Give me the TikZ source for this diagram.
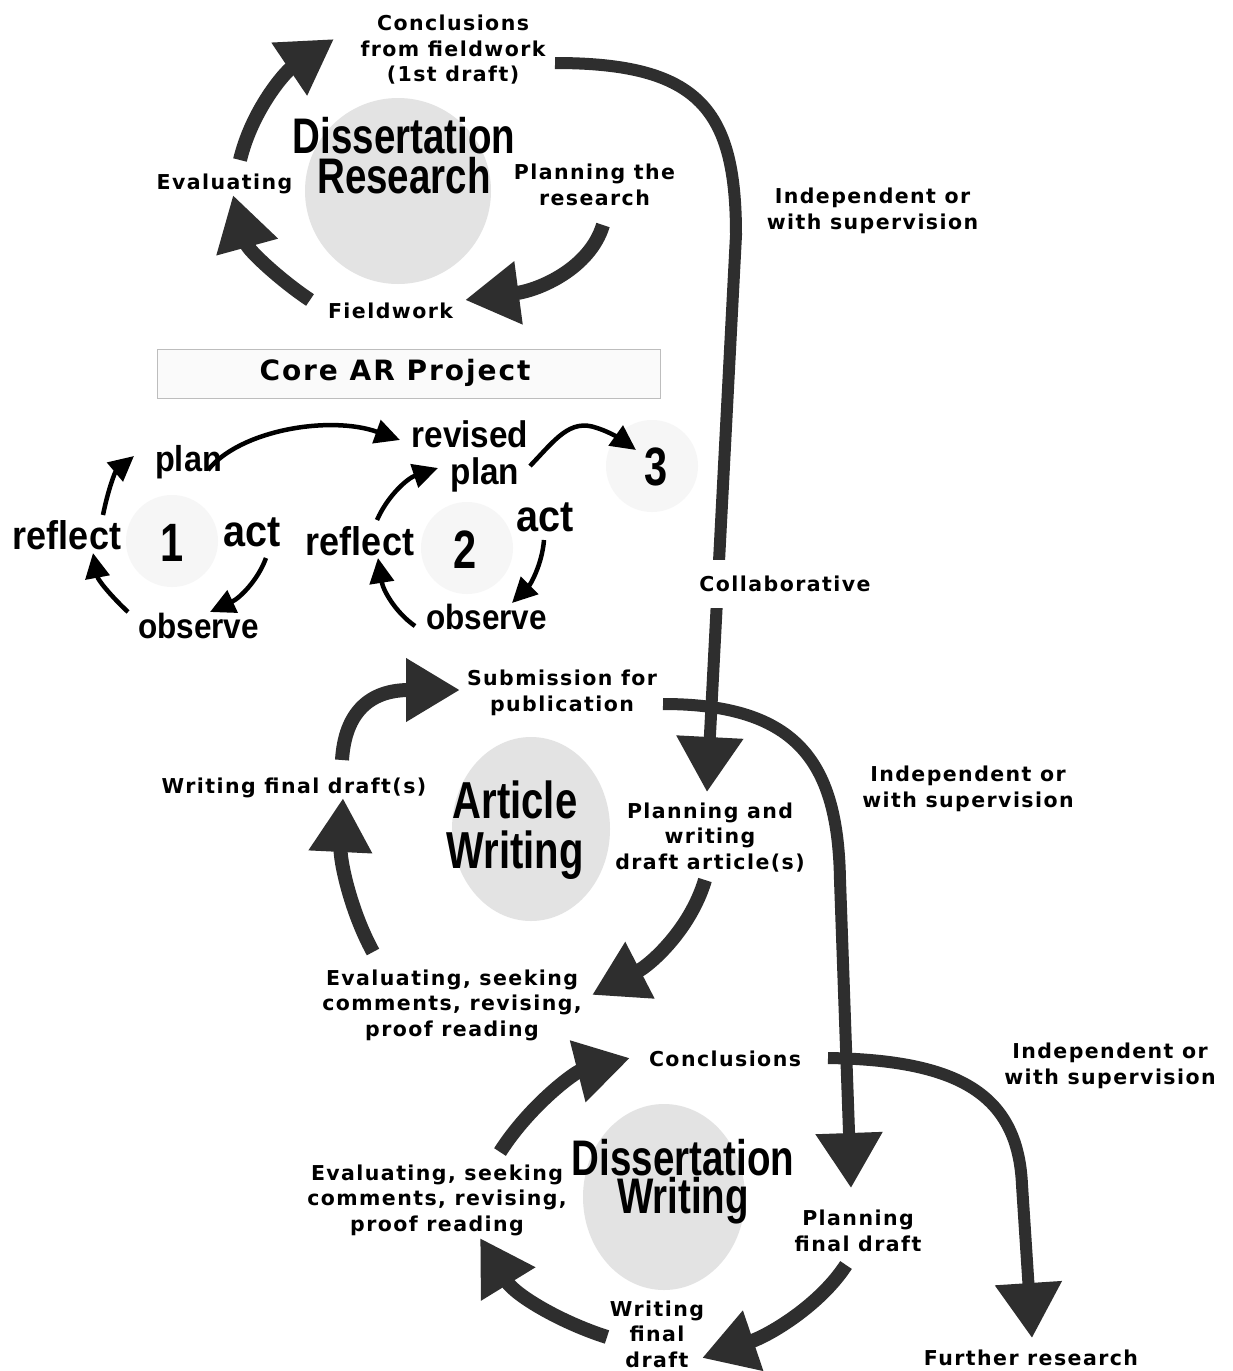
\documentclass[tikz,border=0pt]{standalone}
\usepackage{fontspec}
\setmainfont{DejaVu Sans}[LetterSpace=7]
\newfontfamily\narrowfont{Liberation Sans}[FakeStretch=0.77]
\newfontfamily\semifont{Liberation Sans}[FakeStretch=0.9]
\usetikzlibrary{arrows.meta,shapes.geometric}
\definecolor{arr}{HTML}{2E2E2E}
\definecolor{disc}{HTML}{E3E3E3}
\definecolor{faint}{HTML}{F6F6F6}
\definecolor{boxline}{HTML}{BDBDBD}
\definecolor{boxfill}{HTML}{FAFAFA}
\begin{document}
\begin{tikzpicture}[x=1pt,y=-1pt,
  lab/.style={font=\bfseries\fontsize{20.5}{25.5}\selectfont, align=center, inner sep=0pt},
  bigtitle/.style={font=\narrowfont\bfseries\fontsize{50}{40}\selectfont, inner sep=0pt, anchor=base},
  artitle/.style={font=\narrowfont\bfseries\fontsize{52}{50}\selectfont, inner sep=0pt, anchor=base},
  arlab/.style={font=\semifont\bfseries\fontsize{#1}{#1}\selectfont, align=center, inner sep=0pt},
  digit/.style={font=\narrowfont\bfseries\fontsize{54}{54}\selectfont, inner sep=0pt},
  cyc/.style={draw=arr, line width=14pt, -{Triangle[length=54pt,width=60pt]}},
  bigarr/.style={draw=arr, line width=12pt, -{Triangle[length=55pt,width=64pt]}},
  thin/.style={draw=black, line width=4.5pt, -{Triangle[length=25pt,width=24pt]}},
  disk/.style={circle, fill=disc, inner sep=0pt},
  oval/.style={ellipse, fill=disc, inner sep=0pt},
  fdisk/.style={circle, fill=faint, inner sep=0pt, minimum size=92pt}
]
\fill[white] (0,0) rectangle (1232,1371);
\useasboundingbox (0,0) rectangle (1232,1371);

% ---------------- Dissertation Research ----------------
\node[disk, minimum size=186pt] (drdisc) at (398,191) {};
\node[bigtitle] (drtitlea) at (404,153) {Dissertation};
\node[bigtitle] (drtitleb) at (404,193) {Research};
\node[lab] (drconc) at (453,50) {Conclusions\\from fieldwork\\(1st draft)};
\node[lab] (dreval) at (224.5,183.7) {Evaluating};
\node[lab] (drplan) at (594.5,185) {Planning the\\research};
\node[lab] (drfield) at (390.5,310.5) {Fieldwork};
\node[lab] (indepa) at (872.5,211) {Independent or\\with supervision};

\coordinate (a1s) at (240,160); \coordinate (a1e) at (334,39);
\coordinate (a2s) at (603,225); \coordinate (a2e) at (465,300);
\coordinate (a3s) at (310,300); \coordinate (a3e) at (233,195);
\draw[cyc] (a1s) .. controls (252,110) and (285,72) .. (a1e);
\draw[cyc] (a2s) .. controls (590,268) and (540,290) .. (a2e);
\draw[cyc] (a3s) .. controls (280,280) and (248,250) .. (a3e);

% ---------------- Core AR project ----------------
\node[draw=boxline, fill=boxfill, line width=1pt, minimum width=503pt, minimum height=49pt, inner sep=0pt] (corebox) at (408.5,373.5) {};
\node[font=\bfseries\fontsize{28}{28}\selectfont, inner sep=0pt] (coretext) at (395,373) {Core AR Project};

\node[fdisk] (fc1) at (172,541) {};
\node[fdisk] (fc2) at (467,548) {};
\node[fdisk] (fc3) at (652,466) {};
\node[digit] (n1) at (172,543) {1};
\node[digit] (n2) at (465,550) {2};
\node[digit] (n3) at (656,467) {3};

\node[arlab=36] (plana) at (188.5,462) {plan};
\node[arlab=44] (acta) at (252,532) {act};
\node[arlab=35] (obsa) at (198.5,626) {observe};
\node[arlab=40] (refla) at (67,535) {reflect};
\node[arlab=37, align=right] (planb) at (470,456) {revised\\plan\hspace*{9pt}};
\node[arlab=44] (actb) at (545,517) {act};
\node[arlab=35] (obsb) at (486.5,617) {observe};
\node[arlab=40] (reflb) at (360,541) {reflect};

\coordinate (s1s) at (103,515); \coordinate (s1e) at (134,456);
\coordinate (s2s) at (266,558); \coordinate (s2e) at (210,612);
\coordinate (s3s) at (128,612); \coordinate (s3e) at (93,553);
\coordinate (s4s) at (208,470); \coordinate (s4e) at (400,440);
\coordinate (s5s) at (377,520); \coordinate (s5e) at (438,468);
\coordinate (s6s) at (544,540); \coordinate (s6e) at (512,603);
\coordinate (s7s) at (415,626); \coordinate (s7e) at (378,558);
\coordinate (s8s) at (530,466); \coordinate (s8e) at (636,450);
\draw[thin] (s1s) .. controls (108,490) and (115,472) .. (s1e);
\draw[thin] (s2s) .. controls (258,580) and (240,598) .. (s2e);
\draw[thin] (s3s) .. controls (110,595) and (98,580) .. (s3e);
\draw[thin] (s4s) .. controls (240,430) and (330,415) .. (s4e);
\draw[thin] (s5s) .. controls (388,495) and (408,478) .. (s5e);
\draw[thin] (s6s) .. controls (542,565) and (530,585) .. (s6e);
\draw[thin] (s7s) .. controls (395,612) and (383,590) .. (s7e);
\draw[thin] (s8s) .. controls (555,440) and (570,418) .. (597,428) .. controls (610,432) and (622,440) .. (s8e);

% ---------------- Article Writing ----------------
\node[oval, minimum width=158pt, minimum height=184pt] (awdisc) at (531,829) {};
\node[artitle] (awtitlea) at (515,818) {Article};
\node[artitle] (awtitleb) at (515,868) {Writing};
\node[lab] (awsub) at (562,693) {Submission for\\publication};
\node[lab] (awfinal) at (294,788) {Writing final draft(s)};
\node[lab] (awplan) at (710,837.5) {Planning and\\writing\\draft article(s)};
\node[lab] (aweval) at (452,1005) {Evaluating, seeking\\comments, revising,\\proof reading};
\node[lab] (indepb) at (968,789) {Independent or\\with supervision};

\coordinate (m1s) at (342,760); \coordinate (m1e) at (460,690);
\coordinate (m2s) at (705,880); \coordinate (m2e) at (592,995);
\coordinate (m3s) at (373,952); \coordinate (m3e) at (343,798);
\draw[cyc] (m1s) .. controls (345,712) and (370,690) .. (m1e);
\draw[cyc] (m2s) .. controls (690,930) and (650,965) .. (m2e);
\draw[cyc] (m3s) .. controls (350,910) and (340,860) .. (m3e);

% ---------------- Dissertation Writing ----------------
\node[oval, minimum width=162pt, minimum height=186pt] (dwdisc) at (664,1197) {};
\node[bigtitle] (dwtitlea) at (683,1175) {Dissertation};
\node[bigtitle] (dwtitleb) at (683,1213) {Writing};
\node[lab] (dwconc) at (725,1059) {Conclusions};
\node[lab] (dweval) at (437,1200) {Evaluating, seeking\\comments, revising,\\proof reading};
\node[lab] (dwplan) at (858,1231) {Planning\\final draft};
\node[lab] (dwwrite) at (657,1334) {Writing\\final\\draft};
\node[lab] (indepc) at (1110,1066) {Independent or\\with supervision};
\node[lab] (further) at (1031,1358) {Further research};

\coordinate (d1s) at (500,1152); \coordinate (d1e) at (630,1058);
\coordinate (d2s) at (846,1265); \coordinate (d2e) at (702,1358);
\coordinate (d3s) at (607,1337); \coordinate (d3e) at (480,1238);
\draw[cyc] (d1s) .. controls (530,1105) and (575,1072) .. (d1e);
\draw[cyc] (d2s) .. controls (820,1305) and (770,1335) .. (d2e);
\draw[cyc] (d3s) .. controls (560,1322) and (515,1295) .. (d3e);

% ---------------- long connectors ----------------
\coordinate (b1s) at (555,63); \coordinate (b1e) at (707,792);
\coordinate (b2s) at (663,704); \coordinate (b2e) at (851,1188);
\coordinate (b3s) at (828,1058); \coordinate (b3e) at (1032,1338);
\draw[bigarr] (b3s) .. controls (960,1060) and (1018,1095) .. (1022,1185) -- (b3e);
\draw[bigarr] (b2s) .. controls (800,704) and (838,765) .. (840,880) -- (b2e);
\draw[bigarr] (b1s) .. controls (700,63) and (736,110) .. (736,235) -- (b1e);
\node[lab, fill=white, inner ysep=16pt] (collab) at (785,584) {Collaborative};
\end{tikzpicture}
\end{document}
